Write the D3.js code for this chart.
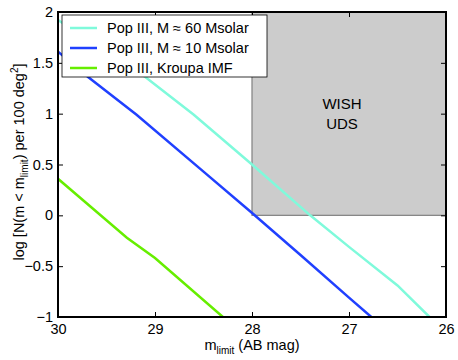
<!DOCTYPE html>
<html><head><meta charset="utf-8">
<script src="https://cdn.jsdelivr.net/npm/d3@7"></script>
<style>body{margin:0;background:#fff}svg{display:block}text{font-family:"Liberation Sans",Arial,sans-serif}</style>
</head><body><svg id="c" width="458" height="360"></svg>
<script>
const seriesNames = ["Pop III, M \u2248 60 Msolar", "Pop III, M \u2248 10 Msolar", "Pop III, Kroupa IMF"];
const seriesColors = ["#7ffadb", "#2040ff", "#66ee00"];
const mag60 = [30, 29.5, 29.1, 28.6, 28.0, 27.4, 27.0, 26.5, 26.17];
const logN60 = [1.92, 1.61, 1.36, 0.99, 0.50, 0.00, -0.31, -0.69, -1.0];
const mag10 = [30, 29.69, 29.19, 28.5, 28.02, 27.5, 27.0, 26.77];
const logN10 = [1.61, 1.36, 0.99, 0.43, 0.04, -0.39, -0.81, -1.0];
const magKroupa = [30, 29.29, 29.0, 28.3];
const logNKroupa = [0.36, -0.22, -0.42, -1.0];
const xTicks = [30, 29, 28, 27, 26];
const yTicks = [-1, -0.5, 0, 0.5, 1, 1.5, 2];
const wishBox = {magFaint: 28, magBright: 26, logNLow: 0, logNHigh: 2};
const wishLabel = ["WISH", "UDS"];

const svg = d3.select("#c");
const L = 58, R = 446, T = 12, B = 317;
const x = d3.scaleLinear().domain([30, 26]).range([L, R]);
const y = d3.scaleLinear().domain([-1, 2]).range([B, T]);

svg.append("defs").append("clipPath").attr("id","clip")
  .append("rect").attr("x",L).attr("y",T).attr("width",R-L).attr("height",B-T);

// WISH region
svg.append("rect")
  .attr("x", x(wishBox.magFaint)).attr("y", y(wishBox.logNHigh))
  .attr("width", x(wishBox.magBright)-x(wishBox.magFaint))
  .attr("height", y(wishBox.logNLow)-y(wishBox.logNHigh))
  .attr("fill","#cccccc").attr("stroke","#808080").attr("stroke-width",1.2);
svg.selectAll(".wl").data(wishLabel).enter().append("text")
  .attr("x", 342).attr("y",(d,i)=>109+i*20).attr("text-anchor","middle")
  .attr("font-size",15).attr("fill","#000").text(d=>d);

const series = [
  {m: mag60, v: logN60},
  {m: mag10, v: logN10},
  {m: magKroupa, v: logNKroupa}
];
const line = d3.line().x(d=>x(d[0])).y(d=>y(d[1]));
const g = svg.append("g").attr("clip-path","url(#clip)");
series.forEach((s,i)=>{
  g.append("path").datum(s.m.map((m,j)=>[m,s.v[j]]))
   .attr("d", line).attr("fill","none").attr("stroke",seriesColors[i]).attr("stroke-width",2.5);
});

// axes
const tl = 5;
const ax = svg.append("g");
ax.append("g").attr("transform",`translate(0,${B})`)
  .call(d3.axisBottom(x).tickValues(xTicks).tickFormat(d3.format("d")).tickSizeInner(-tl).tickSizeOuter(0).tickPadding(7));
ax.append("g").attr("transform",`translate(0,${T})`)
  .call(d3.axisTop(x).tickValues(xTicks).tickFormat("").tickSizeInner(-tl).tickSizeOuter(0));
ax.append("g").attr("transform",`translate(${L},0)`)
  .call(d3.axisLeft(y).tickValues(yTicks).tickFormat(d=>d3.format("")(d).replace("-","\u2212")).tickSizeInner(-tl).tickSizeOuter(0).tickPadding(5));
ax.append("g").attr("transform",`translate(${R},0)`)
  .call(d3.axisRight(y).tickValues(yTicks).tickFormat("").tickSizeInner(-tl).tickSizeOuter(0));
ax.selectAll(".domain").remove();
ax.selectAll("line").attr("stroke","#000").attr("stroke-width",1);
ax.selectAll("text").attr("font-size",14.5).attr("fill","#000").attr("font-family","Liberation Sans, Arial, sans-serif");
svg.append("rect").attr("x",L).attr("y",T).attr("width",R-L).attr("height",B-T)
  .attr("fill","none").attr("stroke","#000").attr("stroke-width",2);

// legend
const lg = svg.append("g");
lg.append("rect").attr("x",62).attr("y",15).attr("width",205).attr("height",62)
  .attr("fill","#fff").attr("stroke","#000").attr("stroke-width",0.8);
seriesNames.forEach((n,i)=>{
  const yy = 28 + i*20;
  lg.append("line").attr("x1",70).attr("x2",97).attr("y1",yy).attr("y2",yy)
    .attr("stroke",seriesColors[i]).attr("stroke-width",2.5);
  lg.append("text").attr("x",107).attr("y",yy+5).attr("font-size",14.5).text(n);
});

// axis labels
const xl = svg.append("text").attr("x",252).attr("y",350).attr("text-anchor","middle").attr("font-size",14.5);
xl.append("tspan").text("m");
xl.append("tspan").attr("font-size",10).attr("dy",4).text("limit");
xl.append("tspan").attr("dy",-4).text(" (AB mag)");

const yl = svg.append("text").attr("transform","translate(24,162) rotate(-90)").attr("text-anchor","middle").attr("font-size",14.5);
yl.append("tspan").text("log  [N(m < m");
yl.append("tspan").attr("font-size",10).attr("dy",4).text("limit");
yl.append("tspan").attr("dy",-4).text(") per 100 deg");
yl.append("tspan").attr("font-size",10).attr("dy",-6).text("2");
yl.append("tspan").attr("dy",6).text("]");
</script></body></html>
